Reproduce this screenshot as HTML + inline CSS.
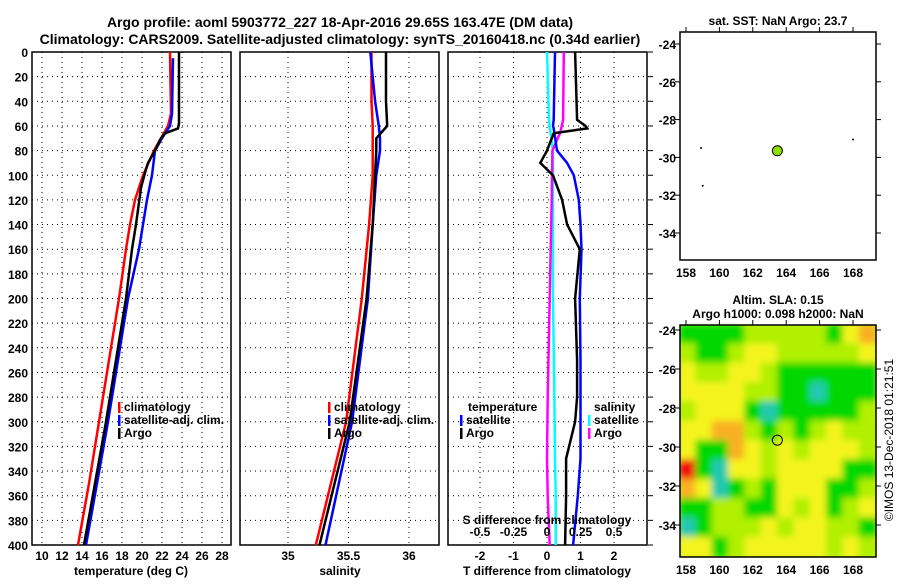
<!DOCTYPE html>
<html><head><meta charset="utf-8"><style>
body{margin:0;background:#fff}
svg{font-family:"Liberation Sans",sans-serif;font-weight:bold}
</style></head><body>
<svg id="s" width="900" height="580" viewBox="0 0 900 580">
<text x="340" y="27" font-size="14" text-anchor="middle">Argo profile: aoml 5903772_227 18-Apr-2016 29.65S 163.47E (DM data)</text>
<text x="340" y="44" font-size="14" text-anchor="middle">Climatology: CARS2009. Satellite-adjusted climatology: synTS_20160418.nc (0.34d earlier)</text>
</svg>
<script>
const depthTicks=[0,20,40,60,80,100,120,140,160,180,200,220,240,260,280,300,320,340,360,380,400];
const tTicks=[10,12,14,16,18,20,22,24,26,28];
const sTicks=[35,35.5,36];
const dtTicks=[-2,-1,0,1,2];
const dsTickLabels=['-0.5','-0.25','0','0.25','0.5'];
const dsTicks=[-0.5,-0.25,0,0.25,0.5];
const dClim=[0,50,60,70,80,100,120,140,160,200,250,300,350,400];
const tClim=[22.8,22.9,22.6,21.9,21.2,20.1,19.3,18.8,18.4,17.7,16.7,15.7,14.7,13.6];
const dSat=[5,50,60,70,80,100,120,140,160,200,250,300,350,400];
const tSat=[23.1,23.0,22.8,22.0,21.3,21.0,20.5,20.1,19.7,18.6,17.6,16.6,15.5,14.4];
const dArgo=[0,58,62,66,70,80,90,98,110,140,160,200,250,300,350,400];
const tArgo=[23.7,23.7,23.6,22.3,21.9,21.3,20.6,20.3,19.9,19.4,19.0,18.4,17.4,16.4,15.3,14.2];
const sDepth=[0,20,40,60,70,80,100,140,200,300,400];
const sClim=[35.69,35.69,35.69,35.70,35.70,35.70,35.70,35.67,35.61,35.48,35.23];
const sSatv=[35.68,35.70,35.72,35.75,35.76,35.76,35.73,35.70,35.66,35.53,35.31];
const sArgo=[35.81,35.81,35.81,35.82,35.73,35.73,35.72,35.70,35.65,35.51,35.26];
const ddT=[0,55,60,62,66,80,90,100,120,140,160,200,250,280,300,330,360,400];
const dtArgo=[0.84,0.9,1.15,1.2,0.2,0.0,-0.2,0.18,0.45,0.6,0.98,0.84,0.9,0.9,0.84,0.57,0.57,0.54];
const dtSat=[0.24,0.2,0.18,0.2,0.22,0.3,0.6,0.8,0.95,1.0,1.03,0.98,1.0,1.0,1.0,1.0,0.92,0.78];
const ddS=[0,55,65,80,120,200,280,330,360,400];
const dsArgo=[0.125,0.12,0.1,0.04,0.035,0.02,0.005,0,0.005,0.02];
const dsSat=[0,0.015,0.025,0.045,0.045,0.045,0.055,0.06,0.065,0.065];
const mapLon=[158,160,162,164,166,168];
const mapLat=[-24,-26,-28,-30,-32,-34];
const slaGrid=[
[1,1,1,1,2,2,2,2,2,1,3,4],[2,1,1,2,3,3,2,2,2,2,2,3],[3,2,2,3,3,2,1,1,1,1,1,1],
[3,3,3,3,2,2,1,1,0,1,1,1],[2,3,3,3,1,0,1,1,1,1,1,2],[3,3,4,4,2,1,2,1,2,3,2,2],
[3,1,1,4,3,2,3,2,3,3,3,2],[5,1,0,3,3,2,3,3,3,3,1,1],[4,3,0,1,2,1,3,3,3,1,1,2],
[1,1,2,2,1,1,3,2,3,1,2,3],[0,1,2,2,2,3,2,3,3,2,2,1],[3,3,1,2,3,3,3,3,3,2,3,2]];
const argoPos=[163.47,-29.65];

const NS='http://www.w3.org/2000/svg',S=document.getElementById('s');
function E(t,a,p){const e=document.createElementNS(NS,t);for(const k in a)e.setAttribute(k,a[k]);(p||S).appendChild(e);return e;}
function T(x,y,str,anchor,size,p){const e=E('text',{x:x,y:y,'font-size':size||12,'text-anchor':anchor||'middle'},p);e.textContent=str;return e;}
const Y=d=>52+d*1.2325, PTOP=52, PBOT=545;
function panel(x0,name){const g=E('g',{});
 E('rect',{x:x0,y:PTOP,width:199,height:PBOT-PTOP,fill:'none',stroke:'#000','stroke-width':1.5},g);
 depthTicks.forEach(d=>{E('line',{x1:x0,x2:x0+199,y1:Y(d),y2:Y(d),stroke:'#000','stroke-dasharray':'1,4'},g);});return g;}
function vgrid(g,xs){xs.forEach(x=>E('line',{x1:x,x2:x,y1:PTOP,y2:PBOT,stroke:'#000','stroke-dasharray':'1,4'},g));}
function line(g,ds,vs,fx,col,name){const pts=ds.map((d,i)=>fx(vs[i]).toFixed(1)+','+Y(d).toFixed(1)).join(' ');
 const e=E('polyline',{points:pts,fill:'none',stroke:col,'stroke-width':2.5},g);}
function legend(g,x,y,items){items.forEach((it,i)=>{E('rect',{x:x,y:y+i*13-9,width:2.5,height:11,fill:it[1]},g);T(x+6,y+i*13,it[0],'start',12,g);});}
// panel 1
const xT=t=>42+(t-10)*10;
let g1=panel(32,'temperature-panel');vgrid(g1,tTicks.map(xT));
depthTicks.forEach(d=>T(28,Y(d)+5,String(d),'end',12));
tTicks.forEach(t=>T(xT(t),560,String(t),'middle',12));
T(131,575,'temperature (deg C)','middle',12);
line(g1,dClim,tClim,xT,'#f00','temp-climatology-line');line(g1,dSat,tSat,xT,'#00f','temp-satellite-line');line(g1,dArgo,tArgo,xT,'#000','temp-argo-line');
legend(g1,118,411,[['climatology','#f00'],['satellite-adj. clim.','#00f'],['Argo','#000']]);
// panel 2
const xS=s=>288+(s-35)*121;
let g2=panel(240,'salinity-panel');vgrid(g2,sTicks.map(xS));
sTicks.forEach(s=>T(xS(s),560,String(s),'middle',12));T(340,575,'salinity','middle',12);
line(g2,sDepth,sClim,xS,'#f00','sal-climatology-line');line(g2,sDepth,sSatv,xS,'#00f','sal-satellite-line');line(g2,sDepth,sArgo,xS,'#000','sal-argo-line');
legend(g2,328,411,[['climatology','#f00'],['satellite-adj. clim.','#00f'],['Argo','#000']]);
// panel 3
const xD=v=>547+v*33.5, xDS=v=>547+v*134;
let g3=panel(448,'difference-panel');vgrid(g3,dtTicks.map(xD));
depthTicks.forEach(d=>E('line',{x1:648,x2:653,y1:Y(d),y2:Y(d),stroke:'#000'}));
dtTicks.forEach(v=>T(xD(v),560,String(v),'middle',12));T(547,575,'T difference from climatology','middle',12);
dsTicks.forEach((v,i)=>T(xDS(v),536,dsTickLabels[i],'middle',12));T(547,524,'S difference from climatology','middle',12);
line(g3,ddS,dsSat,xDS,'#0ff','sal-diff-satellite-line');line(g3,ddS,dsArgo,xDS,'#f0f','sal-diff-argo-line');
line(g3,ddT,dtSat,xD,'#00f','temp-diff-satellite-line');line(g3,ddT,dtArgo,xD,'#000','temp-diff-argo-line');
T(468,411,'temperature','start',12,g3);legend(g3,460,424,[['satellite','#00f'],['Argo','#000']]);
T(594,411,'salinity','start',12,g3);legend(g3,588,424,[['satellite','#0ff'],['Argo','#f0f']]);
// maps
const mX=l=>686+(l-158)*16.7;
function mapAxes(y0,h,my,name){const g=E('g',{});
 mapLat.forEach(l=>{T(676,my(l)+5,String(l),'end',12,g);E('line',{x1:876,x2:881,y1:my(l),y2:my(l),stroke:'#000'},g);E('line',{x1:675,x2:680,y1:my(l),y2:my(l),stroke:'#000'},g);});
 mapLon.forEach(l=>{T(mX(l),y0+h+17,String(l),'middle',12,g);E('line',{x1:mX(l),x2:mX(l),y1:y0-5,y2:y0,stroke:'#000'},g);});return g;}
const m1Y=l=>44+(-24-l)*18.9;
T(778,25,'sat. SST: NaN Argo: 23.7','middle',12);
let gm1=mapAxes(32,228,m1Y,'sst-map');
E('rect',{x:680,y:32,width:196,height:228,fill:'#fff',stroke:'#000','stroke-width':1.5},gm1);
const c1=E('circle',{cx:mX(argoPos[0]),cy:m1Y(argoPos[1]),r:5,fill:'#8fe000',stroke:'#000'},gm1);
[[158.9,-29.5],[159,-31.5],[168,-29.05]].forEach(p=>E('circle',{cx:mX(p[0]),cy:m1Y(p[1]),r:1,fill:'#000'},gm1));
T(778,304,'Altim. SLA: 0.15','middle',12);T(778,318,'Argo h1000: 0.098 h2000: NaN','middle',12);
const m2Y=l=>330+(-24-l)*19.5;
let gm2=mapAxes(325,232,m2Y,'sla-map');
const cols=['#20c8b0','#00d800','#b0f000','#f4f41c','#f8b020','#f01010'];
const defs=E('defs',{});const cp=E('clipPath',{id:'mc'},defs);E('rect',{x:680,y:325,width:196,height:232},cp);
const flt=E('filter',{id:'bl',x:'-10%',y:'-10%',width:'120%',height:'120%'},defs);E('feGaussianBlur',{stdDeviation:3.5},flt);
const hg=E('g',{'clip-path':'url(#mc)'},gm2);E('rect',{x:680,y:325,width:196,height:232,fill:'#c8ee20'},hg);
const hb=E('g',{filter:'url(#bl)'},hg);
const cw=196/12,ch=232/12;
slaGrid.forEach((row,r)=>row.forEach((v,c)=>{const e=E('rect',{x:680+c*cw-1,y:325+r*ch-1,width:cw+2,height:ch+2,fill:cols[v]},hb);}));
E('rect',{x:680,y:325,width:196,height:232,fill:'none',stroke:'#000','stroke-width':1.5},gm2);
const c2=E('circle',{cx:mX(argoPos[0]),cy:m2Y(argoPos[1]),r:5,fill:'none',stroke:'#000'},gm2);
const cr=T(893,440,'©IMOS 13-Dec-2018 01:21:51','middle',12);cr.setAttribute('transform','rotate(-90 893 440)');cr.setAttribute('font-weight','normal');
</script>
</body></html>
